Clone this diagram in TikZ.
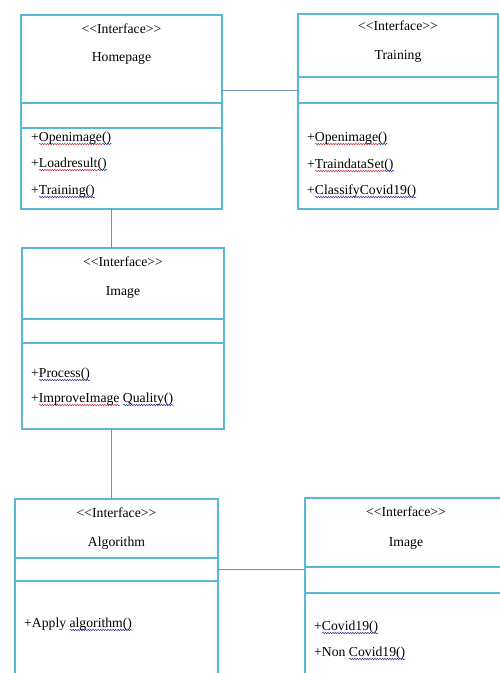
\documentclass[tikz,border=0pt]{standalone}
\usepackage{fontspec}
\setmainfont{Liberation Serif}
\usepackage{xcolor}
\usepackage{tikz}
\usetikzlibrary{positioning, decorations.pathmorphing}

\definecolor{boxblue}{HTML}{5BB8D4}
\definecolor{linkblue}{HTML}{6F8FB2}
\definecolor{spellred}{HTML}{C0283C}
\definecolor{spellblue}{HTML}{2A2A9C}

% spell-check style wavy underline
\newlength\wavelen
\newcommand\wavy[2]{\settowidth\wavelen{#2}\rlap{\raisebox{-3pt}{\tikz[baseline=0pt]\draw[#1, line width=0.5pt, decorate, decoration={snake, amplitude=0.7pt, segment length=2.5pt}] (0pt,0pt) -- (\wavelen,0pt);}}#2}
\newcommand\iface{<\kern0pt<Interface>\kern0pt>}

\begin{document}
\begin{tikzpicture}[x=1pt, y=-1pt,
    every node/.style={font=\fontsize{13.7pt}{16pt}\selectfont},
    classbox/.style={draw=boxblue, line width=1.2pt, rectangle, inner sep=0pt, outer sep=0pt},
    title/.style={anchor=base, inner sep=0pt},
    method/.style={anchor=base west, inner sep=0pt},
    link/.style={draw=linkblue, line width=1pt}]

    \useasboundingbox (0,0) rectangle (499,673);

    % Homepage interface
    \node[classbox, anchor=north west, minimum width=201pt, minimum height=88pt] (homehead) at (21,15) {};
    \node[classbox, below=0pt of homehead, minimum width=201pt, minimum height=25pt] (homeattr) {};
    \node[classbox, below=0pt of homeattr, minimum width=201pt, minimum height=81pt] (homeops) {};
    \node[title] (homestereo) at ([yshift=-18pt]homehead.north) {\iface};
    \node[title] (homename) at ([yshift=-46pt]homehead.north) {Homepage};
    \node[method] (homeopen) at ([xshift=10pt, yshift=-13pt]homeops.north west) {+\wavy{spellred}{Openimage}\wavy{spellblue}{()}};
    \node[method] (homeload) at ([xshift=10pt, yshift=-39pt]homeops.north west) {+\wavy{spellred}{Loadresult}\wavy{spellblue}{()}};
    \node[method] (hometrain) at ([xshift=10pt, yshift=-66pt]homeops.north west) {+\wavy{spellblue}{Training()}};

    % Training interface
    \node[classbox, anchor=north west, minimum width=200pt, minimum height=63pt] (trainhead) at (298,14) {};
    \node[classbox, below=0pt of trainhead, minimum width=200pt, minimum height=26pt] (trainattr) {};
    \node[classbox, below=0pt of trainattr, minimum width=200pt, minimum height=106pt] (trainops) {};
    \node[title] (trainstereo) at ([yshift=-16pt]trainhead.north) {\iface};
    \node[title] (trainname) at ([yshift=-45pt]trainhead.north) {Training};
    \node[method] (trainopen) at ([xshift=9pt, yshift=-38pt]trainops.north west) {+\wavy{spellred}{Openimage}\wavy{spellblue}{()}};
    \node[method] (traindata) at ([xshift=9pt, yshift=-65pt]trainops.north west) {+\wavy{spellred}{TraindataSet}\wavy{spellblue}{()}};
    \node[method] (trainclass) at ([xshift=9pt, yshift=-91pt]trainops.north west) {+\wavy{spellblue}{ClassifyCovid19()}};

    % Image interface
    \node[classbox, anchor=north west, minimum width=202pt, minimum height=71pt] (imghead) at (22,248) {};
    \node[classbox, below=0pt of imghead, minimum width=202pt, minimum height=24pt] (imgattr) {};
    \node[classbox, below=0pt of imgattr, minimum width=202pt, minimum height=86pt] (imgops) {};
    \node[title] (imgstereo) at ([yshift=-18pt]imghead.north) {\iface};
    \node[title] (imgname) at ([yshift=-47pt]imghead.north) {Image};
    \node[method] (imgproc) at ([xshift=9pt, yshift=-34pt]imgops.north west) {+\wavy{spellblue}{Process()}};
    \node[method] (imgqual) at ([xshift=9pt, yshift=-59pt]imgops.north west) {+\wavy{spellred}{ImproveImage} \wavy{spellblue}{Quality()}};

    % Algorithm interface
    \node[classbox, anchor=north west, minimum width=203pt, minimum height=59pt] (alghead) at (15,499) {};
    \node[classbox, below=0pt of alghead, minimum width=203pt, minimum height=23pt] (algattr) {};
    \node[classbox, below=0pt of algattr, minimum width=203pt, minimum height=120pt] (algops) {};
    \node[title] (algstereo) at ([yshift=-18pt]alghead.north) {\iface};
    \node[title] (algname) at ([yshift=-47pt]alghead.north) {Algorithm};
    \node[method] (algapply) at ([xshift=9pt, yshift=-46pt]algops.north west) {+Apply \wavy{spellblue}{algorithm()}};

    % Image (result) interface
    \node[classbox, anchor=north west, minimum width=202pt, minimum height=69pt] (covhead) at (305,498) {};
    \node[classbox, below=0pt of covhead, minimum width=202pt, minimum height=26pt] (covattr) {};
    \node[classbox, below=0pt of covattr, minimum width=202pt, minimum height=120pt] (covops) {};
    \node[title] (covstereo) at ([yshift=-18pt]covhead.north) {\iface};
    \node[title] (covname) at ([yshift=-48pt]covhead.north) {Image};
    \node[method] (covyes) at ([xshift=9pt, yshift=-37pt]covops.north west) {+\wavy{spellblue}{Covid19()}};
    \node[method] (covno) at ([xshift=9pt, yshift=-63pt]covops.north west) {+Non \wavy{spellblue}{Covid19()}};

    % Links
    \draw[link] (trainattr.west) -- (trainattr.west -| homehead.east);
    \draw[link] ([xshift=-10.5pt]homeops.south) -- ([xshift=-10.5pt]homeops.south |- imghead.north);
    \draw[link] ([xshift=-12pt]imgops.south) -- ([xshift=-12pt]imgops.south |- alghead.north);
    \draw[link] (algattr.east) -- (algattr.east -| covhead.west);

\end{tikzpicture}
\end{document}
